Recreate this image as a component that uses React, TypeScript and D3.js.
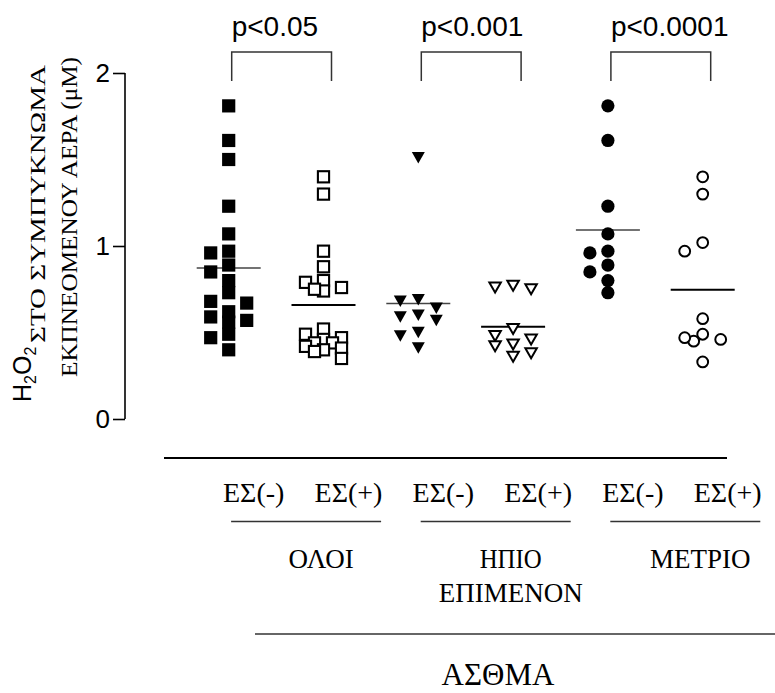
import React, { useEffect, useRef } from "react";
import * as d3 from "d3";

// ---------- data ----------
const groupKeys = ["ΟΛΟΙ-", "ΟΛΟΙ+", "ΗΠΙΟ-", "ΗΠΙΟ+", "ΜΕΤΡΙΟ-", "ΜΕΤΡΙΟ+"];
const subLabels = ["ΕΣ(-)", "ΕΣ(+)", "ΕΣ(-)", "ΕΣ(+)", "ΕΣ(-)", "ΕΣ(+)"];
const severityLabels = [["ΟΛΟΙ"], ["ΗΠΙΟ", "ΕΠΙΜΕΝΟΝ"], ["ΜΕΤΡΙΟ"]];
const groupTitle = "ΑΣΘΜΑ";

const allNeg = [1.81, 1.61, 1.5, 1.23, 1.07, 0.96, 0.97, 0.89, 0.85, 0.8, 0.73, 0.67, 0.68, 0.62, 0.57, 0.59, 0.56, 0.49, 0.47, 0.4];
const allPos = [1.4, 1.3, 0.97, 0.88, 0.8, 0.79, 0.76, 0.74, 0.75, 0.52, 0.49, 0.47, 0.46, 0.44, 0.44, 0.42, 0.41, 0.4, 0.39, 0.35];
const mildNeg = [1.51, 0.64, 0.68, 0.69, 0.59, 0.57, 0.6, 0.5, 0.48, 0.41];
const mildPos = [0.77, 0.75, 0.76, 0.52, 0.48, 0.46, 0.42, 0.43, 0.38, 0.36];
const modNeg = [1.81, 1.61, 1.23, 1.07, 0.96, 0.97, 0.89, 0.85, 0.8, 0.73];
const modPos = [1.4, 1.3, 1.02, 0.97, 0.58, 0.49, 0.46, 0.45, 0.47, 0.33];
const seriesValues = [allNeg, allPos, mildNeg, mildPos, modNeg, modPos];

const comparisons = [
  { a: 0, b: 1, label: "p<0.05" },
  { a: 2, b: 3, label: "p<0.001" },
  { a: 4, b: 5, label: "p<0.0001" },
];
const yTicks = [0, 1, 2];

// ---------- styles ----------
const shapes = ["square", "square", "triangle", "triangle", "circle", "circle"];
const filled = [true, false, true, false, true, false];
const SERIF = "'Liberation Serif', 'Times New Roman', serif";
const SANS = "'Liberation Sans', Arial, sans-serif";

const W = 775;
const H = 693;

function swarm(values: number[], y: (v: number) => number, size: number, step: number): number[] {
  const order = d3.range(values.length).sort((a, b) => values[b] - values[a]);
  const cands = [0, -1, 1, -0.5, 0.5].map((k) => k * step);
  const placed: { x: number; y: number }[] = [];
  const out: number[] = new Array(values.length).fill(0);
  for (const i of order) {
    const py = y(values[i]);
    let best = 0;
    let bestScore = -Infinity;
    for (const cx of cands) {
      let ok = true;
      let minD = Infinity;
      for (const p of placed) {
        const dx = Math.abs(p.x - cx);
        const dy = Math.abs(p.y - py);
        if (dx < size && dy < size) ok = false;
        minD = Math.min(minD, Math.max(dx, dy));
      }
      if (ok) {
        best = cx;
        break;
      }
      if (minD > bestScore) {
        bestScore = minD;
        best = cx;
      }
    }
    out[i] = best;
    placed.push({ x: best, y: py });
  }
  return out;
}

function Marker({ shape, fill, cx, cy }: { shape: string; fill: boolean; cx: number; cy: number }) {
  if (shape === "square") {
    return fill ? (
      <rect x={cx - 6.6} y={cy - 6.6} width={13.2} height={13.2} fill="#000" />
    ) : (
      <rect x={cx - 5.6} y={cy - 5.6} width={11.2} height={11.2} fill="#fff" stroke="#000" strokeWidth={2.1} />
    );
  }
  if (shape === "triangle") {
    const w = fill ? 13 : 11.5;
    const h = fill ? 11.5 : 10;
    const pts = `${cx - w / 2},${cy - h / 2} ${cx + w / 2},${cy - h / 2} ${cx},${cy + h / 2}`;
    return fill ? (
      <polygon points={pts} fill="#000" />
    ) : (
      <polygon points={pts} fill="#fff" stroke="#000" strokeWidth={2} strokeLinejoin="miter" />
    );
  }
  return fill ? (
    <circle cx={cx} cy={cy} r={6.6} fill="#000" />
  ) : (
    <circle cx={cx} cy={cy} r={5.4} fill="#fff" stroke="#000" strokeWidth={2} />
  );
}

export default function App() {
  const axisRef = useRef<SVGGElement>(null);

  const x = d3.scalePoint<string>().domain(groupKeys).range([228.7, 702.7]);
  const y = d3.scaleLinear().domain([0, 2]).range([419, 73]);
  const axisX = 125;

  useEffect(() => {
    if (!axisRef.current) return;
    const g = d3.select(axisRef.current);
    g.selectAll("*").remove();
    g.call(d3.axisLeft(y).tickValues(yTicks).tickSize(12).tickPadding(3).tickFormat(d3.format("d")));
    g.select(".domain").attr("stroke", "#000").attr("stroke-width", 1.6).attr("d", `M0,${y(2)}V${y(0)}`);
    g.selectAll(".tick line").attr("stroke", "#000").attr("stroke-width", 1.6);
    g.selectAll(".tick text").attr("font-family", SANS).attr("font-size", 26).attr("fill", "#000");
  }, []);

  const labelX = (i: number) => (x(groupKeys[i]) as number) + 25;
  const top = y(2);

  return (
    <svg width={W} height={H} style={{ position: "absolute", left: 0, top: 0, background: "#fff" }}>
      <rect x={0} y={0} width={W} height={H} fill="#fff" />

      {/* y axis label */}
      <text transform={`translate(31,402) rotate(-90)`} fontFamily={SANS} fontSize={25} fill="#000">
        H<tspan fontSize={16} dy={5}>2</tspan>
        <tspan dy={-5}>O</tspan>
        <tspan fontSize={16} dy={5}>2</tspan>
      </text>
      <text transform={`translate(45,343) rotate(-90)`} fontFamily={SERIF} fontSize={22} fill="#000" textLength={278} lengthAdjust="spacingAndGlyphs">
        ΣΤΟ ΣΥΜΠΥΚΝΩΜΑ
      </text>
      <text transform={`translate(77,377) rotate(-90)`} fontFamily={SERIF} fontSize={24} fill="#000" textLength={320} lengthAdjust="spacingAndGlyphs">
        ΕΚΠΝΕΟΜΕΝΟΥ ΑΕΡΑ (μΜ)
      </text>

      <g ref={axisRef} transform={`translate(${axisX},0)`} />

      {/* mean lines */}
      {seriesValues.map((vals, i) => {
        const cx = x(groupKeys[i]) as number;
        const m = d3.mean(vals) as number;
        return (
          <line
            key={"m" + i}
            x1={cx - 32}
            x2={cx + 32}
            y1={y(m)}
            y2={y(m)}
            stroke={filled[i] ? "#444" : "#000"}
            strokeWidth={filled[i] ? 1.5 : 2}
          />
        );
      })}

      {/* points */}
      {seriesValues.map((vals, i) => {
        const cx = x(groupKeys[i]) as number;
        const offs = swarm(vals, y, 12, 18);
        return (
          <g key={"g" + i}>
            {vals.map((v, j) => (
              <Marker key={j} shape={shapes[i]} fill={filled[i]} cx={cx + offs[j]} cy={y(v)} />
            ))}
          </g>
        );
      })}

      {/* significance brackets */}
      {comparisons.map((c, i) => {
        const x1 = (x(groupKeys[c.a]) as number) + 3;
        const x2 = (x(groupKeys[c.b]) as number) + 8;
        const yt = top - 21;
        const yb = top + 8;
        return (
          <g key={"c" + i}>
            <path d={`M${x1},${yb}V${yt}H${x2}V${yb}`} fill="none" stroke="#333" strokeWidth={1.5} />
            <text x={x1} y={top - 37} fontFamily={SANS} fontSize={28} fill="#000">
              {c.label}
            </text>
          </g>
        );
      })}

      {/* category axis */}
      <line x1={164} x2={727} y1={458} y2={458} stroke="#000" strokeWidth={2} />
      {subLabels.map((s, i) => (
        <text key={"s" + i} x={labelX(i)} y={502} textAnchor="middle" fontFamily={SERIF} fontSize={28} fill="#000">
          {s}
        </text>
      ))}
      {severityLabels.map((lines, k) => {
        const c = (labelX(2 * k) + labelX(2 * k + 1)) / 2;
        return (
          <g key={"v" + k}>
            <line x1={c + 5 - 75} x2={c + 5 + 75} y1={521.5} y2={521.5} stroke="#333" strokeWidth={1.5} />
            {lines.map((t, j) => (
              <text
                key={j}
                x={c + 20}
                y={568 + j * 33.5}
                textAnchor="middle"
                fontFamily={SERIF}
                fontSize={27}
                fill="#000"
                {...(t === "ΗΠΙΟ" ? { textLength: 62, lengthAdjust: "spacingAndGlyphs" } : {})}
              >
                {t}
              </text>
            ))}
          </g>
        );
      })}
      <line x1={255} x2={775} y1={634} y2={634} stroke="#333" strokeWidth={1.6} />
      <text x={498} y={685} textAnchor="middle" fontFamily={SERIF} fontSize={31} fill="#000">
        {groupTitle}
      </text>
    </svg>
  );
}
